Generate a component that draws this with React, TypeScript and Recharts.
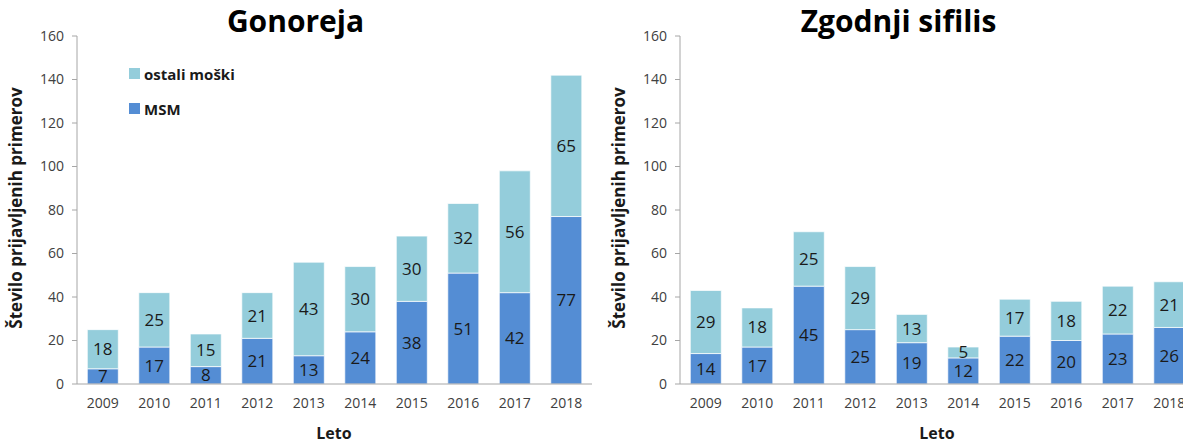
import { Bar, BarChart, LabelList, XAxis, YAxis } from "recharts"

const years = ["2009", "2010", "2011", "2012", "2013", "2014", "2015", "2016", "2017", "2018"]
const gonMsm = [7, 17, 8, 21, 13, 24, 38, 51, 42, 77]
const gonOther = [18, 25, 15, 21, 43, 30, 30, 32, 56, 65]
const sifMsm = [14, 17, 45, 25, 19, 12, 22, 20, 23, 26]
const sifOther = [29, 18, 25, 29, 13, 5, 17, 18, 22, 21]
const yTicks = [0, 20, 40, 60, 80, 100, 120, 140, 160]

const DARK = "hsl(213, 60%, 58%)"
const LIGHT = "hsl(192, 50%, 72%)"
const FONT = "'Open Sans', Lato, sans-serif"

const legendItems = [
  { label: "ostali moški", color: LIGHT },
  { label: "MSM", color: DARK },
]

function LegendBox() {
  return (
    <div style={{ position: "absolute", left: 129, top: 56, fontFamily: FONT }}>
      {legendItems.map((it) => (
        <div key={it.label} style={{ display: "flex", alignItems: "center", height: 35 }}>
          <span style={{ width: 11, height: 11, background: it.color, marginRight: 4 }} />
          <span style={{ fontSize: 15, fontWeight: 700, color: "#1a1a1a" }}>{it.label}</span>
        </div>
      ))}
    </div>
  )
}

function Panel({ title, msm, other, left, showLegend }: {
  title: string
  msm: number[]
  other: number[]
  left: number
  showLegend?: boolean
}) {
  const data = years.map((year, i) => ({ year, msm: msm[i], other: other[i] }))
  return (
    <div style={{ position: "absolute", left, top: 0, width: 600, height: 439 }}>
      <div
        style={{
          position: "absolute",
          left: 0,
          top: 5,
          width: 591,
          textAlign: "center",
          fontSize: 30,
          fontWeight: 700,
          lineHeight: "32px",
          color: "#000",
          fontFamily: FONT,
        }}
      >
        {title}
      </div>
      <BarChart
        width={600}
        height={439}
        data={data}
        margin={{ top: 36, right: 8, left: 0, bottom: 0 }}
        barCategoryGap="20%"
        style={{ fontFamily: FONT }}
      >
        <XAxis
          dataKey="year"
          height={55}
          tickLine={false}
          tickSize={6}
          tickMargin={8}
          stroke="#a6a6a6"
          tick={{ fill: "#404040", fontSize: 14 }}
          label={{
            content: () => (
              <text x={334} y={439} textAnchor="middle" fontSize={16} fontWeight={700} fill="#1a1a1a">
                Leto
              </text>
            ),
          }}
        />
        <YAxis
          width={77}
          domain={[0, 160]}
          ticks={yTicks}
          tickSize={5}
          tickMargin={8}
          stroke="#a6a6a6"
          tick={{ fill: "#404040", fontSize: 14 }}
          label={{
            content: () => (
              <text
                x={15}
                y={208}
                transform="rotate(-90, 15, 208)"
                textAnchor="middle"
                dominantBaseline="central"
                fontSize={17}
                fontWeight={700}
                fill="#1a1a1a"
              >
                Število prijavljenih primerov
              </text>
            ),
          }}
        />
        <Bar dataKey="msm" stackId="a" fill={DARK} stroke="#fff" strokeWidth={0.7} isAnimationActive={false}>
          <LabelList dataKey="msm" position="center" fill="#1a1a1a" fontSize={17} />
        </Bar>
        <Bar dataKey="other" stackId="a" fill={LIGHT} stroke="#fff" strokeWidth={0.7} isAnimationActive={false}>
          <LabelList dataKey="other" position="center" fill="#1a1a1a" fontSize={17} />
        </Bar>
      </BarChart>
      {showLegend && <LegendBox />}
    </div>
  )
}

export default function App() {
  return (
    <div
      style={{
        position: "absolute",
        left: 0,
        top: 0,
        width: 1183,
        height: 439,
        overflow: "hidden",
        background: "#fff",
      }}
    >
      <Panel title="Gonoreja" msm={gonMsm} other={gonOther} left={0} showLegend />
      <Panel title="Zgodnji sifilis" msm={sifMsm} other={sifOther} left={603} />
    </div>
  )
}
